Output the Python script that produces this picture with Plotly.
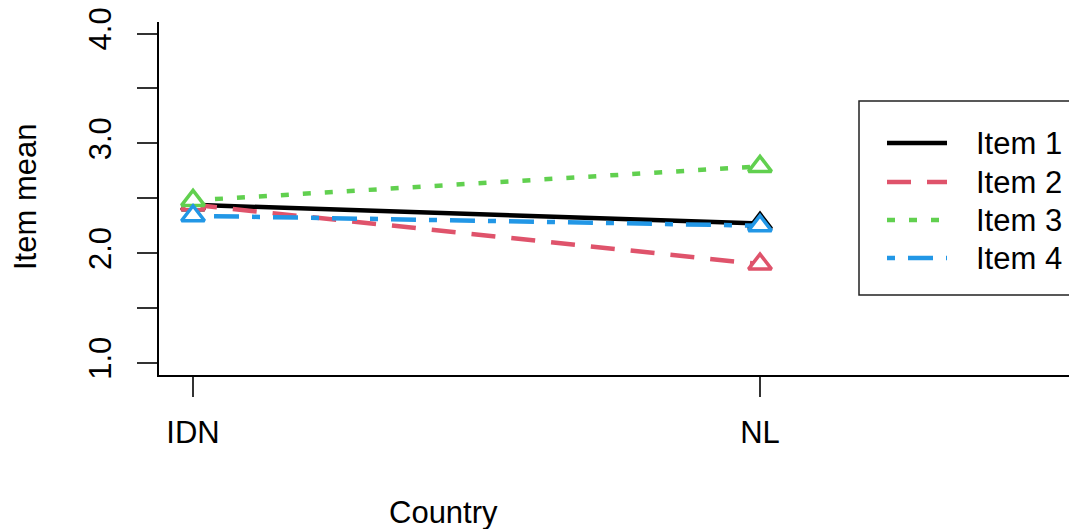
import plotly.graph_objects as go

countries = ["IDN", "NL"]
x_pos = [1, 2]
items = ["Item 1", "Item 2", "Item 3", "Item 4"]
item1 = [2.44, 2.27]
item2 = [2.44, 1.90]
item3 = [2.48, 2.79]
item4 = [2.34, 2.25]
series = [item1, item2, item3, item4]
colors = ["#000000", "#DF536B", "#61D04F", "#2297E6"]
dashes = ["solid", "24px,16px", "8px,14px", "8px,13px,25px,13px"]

y_ticks = [1.0, 1.5, 2.0, 2.5, 3.0, 3.5, 4.0]
y_ticktext = ["1.0", "", "2.0", "", "3.0", "", "4.0"]

FONT = "Liberation Sans, Arial, sans-serif"
FS = 31

fig = go.Figure()
for name, vals, col, dash in zip(items, series, colors, dashes):
    fig.add_trace(go.Scatter(
        x=x_pos, y=vals, mode="lines", name=name,
        line=dict(color=col, width=4.5, dash=dash),
        showlegend=False,
    ))
    fig.add_trace(go.Scatter(
        x=x_pos, y=vals, mode="markers", name=name,
        marker=dict(symbol="triangle-up", size=20, color="white",
                    line=dict(color=col, width=3.5)),
        showlegend=False, hoverinfo="skip",
    ))

W, H = 1069, 529
L, R, T, B = 159, 0, 22, 154
pw, ph = W - L - R, H - T - B

def px_x(px):
    return (px - L) / pw

def px_y(py):
    return (H - B - py) / ph

# legend drawn as a boxed key (layout elements, not data marks)
shapes = [dict(type="rect", xref="paper", yref="paper",
               x0=px_x(859), x1=px_x(1090), y0=px_y(295), y1=px_y(101),
               line=dict(color="#222", width=1.5), fillcolor="white", layer="above")]
annotations = []
legend_rows = [143, 182, 220, 258]
for name, col, dash, ry in zip(items, colors, dashes, legend_rows):
    shapes.append(dict(type="line", xref="paper", yref="paper",
                       x0=px_x(887), x1=px_x(947), y0=px_y(ry), y1=px_y(ry),
                       line=dict(color=col, width=4.5, dash=dash), layer="above"))
    annotations.append(dict(text=name, x=px_x(974), y=px_y(ry), xref="paper", yref="paper",
                            showarrow=False, xanchor="left", yanchor="middle",
                            font=dict(size=FS)))

annotations += [
    dict(text="Item mean", x=px_x(25), y=px_y(197), xref="paper", yref="paper",
         showarrow=False, textangle=-90, font=dict(size=FS), xanchor="center", yanchor="middle"),
    dict(text="Country", x=px_x(443), y=px_y(512), xref="paper", yref="paper",
         showarrow=False, font=dict(size=FS), xanchor="center", yanchor="middle"),
]

fig.update_layout(
    width=W, height=H,
    margin=dict(l=L, r=R, t=T, b=B, autoexpand=False),
    paper_bgcolor="white", plot_bgcolor="white",
    font=dict(family=FONT, size=FS, color="black"),
    showlegend=False,
    xaxis=dict(
        range=[0.940, 2.545], tickvals=x_pos, ticktext=countries,
        showgrid=False, zeroline=False, showline=True, linecolor="black", linewidth=1.5,
        ticks="outside", ticklen=20, tickwidth=1.5, tickcolor="#333",
        ticklabelstandoff=9, tickfont=dict(size=FS),
    ),
    yaxis=dict(
        range=[0.89, 4.105], tickvals=y_ticks, ticktext=y_ticktext,
        showgrid=False, zeroline=False, showline=True, linecolor="black", linewidth=1.5,
        ticks="outside", ticklen=20, tickwidth=1.5, tickcolor="#333",
        tickangle=-90, ticklabelstandoff=14, tickfont=dict(size=FS),
    ),
    shapes=shapes,
    annotations=annotations,
)

fig.write_html("out.html",
               config={"displayModeBar": False},
               post_script="document.body.style.margin='0';document.body.style.padding='0';"
                           "document.documentElement.style.overflow='hidden';")
